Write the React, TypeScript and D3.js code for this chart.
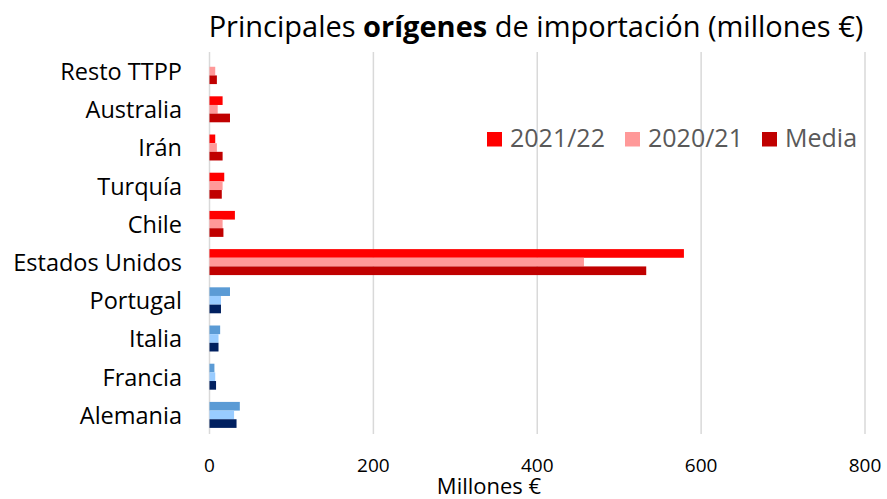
import React from "react";
import * as d3 from "d3";

const categories = ["Resto TTPP", "Australia", "Irán", "Turquía", "Chile", "Estados Unidos", "Portugal", "Italia", "Francia", "Alemania"];
const series = ["2021/22", "2020/21", "Media"];
const values2122 = [0, 16, 7, 18, 31, 579, 25, 13, 6, 37];
const values2021 = [7, 10, 9, 16, 16, 457, 14, 11, 7, 30];
const valuesMedia = [9, 25, 16, 15, 17, 533, 14, 11, 8, 33];
const blueGroup = ["Portugal", "Italia", "Francia", "Alemania"];
const redColors = ["#FF0000", "#FF9999", "#C00000"];
const blueColors = ["#5B9BD5", "#99CCFF", "#002060"];
const xTicks = [0, 200, 400, 600, 800];

const W = 887;
const H = 499;
const font = "'Open Sans', 'Noto Sans', sans-serif";

export default function App() {
  const x = d3.scaleLinear().domain([0, 800]).range([209.5, 865]);
  const y = d3.scaleBand<string>().domain(categories).range([52, 434]).paddingInner(0.32).paddingOuter(0.16);
  const ys = d3.scaleBand<string>().domain(series).range([0, y.bandwidth()]);
  const seriesValues = [values2122, values2021, valuesMedia];

  return (
    <svg width={W} height={H} style={{ position: "absolute", left: 0, top: 0, background: "#fff" }} fontFamily={font}>
      <text x={536} y={37} fontSize={29} textAnchor="middle" fill="#000">
        Principales <tspan fontWeight="bold">orígenes</tspan> de importación (millones €)
      </text>
      {xTicks.map((t) => (
        <g key={t}>
          <line x1={x(t)} x2={x(t)} y1={52} y2={434} stroke="#D9D9D9" strokeWidth={1.5} />
          <text x={x(t)} y={472} fontSize={19} textAnchor="middle" fill="#000">{t}</text>
        </g>
      ))}
      {categories.map((c, i) => {
        const cols = blueGroup.includes(c) ? blueColors : redColors;
        return (
          <g key={c}>
            {series.map((s, j) => {
              const v = seriesValues[j][i];
              return v > 0 ? (
                <rect key={s} x={x(0)} y={(y(c) as number) + (ys(s) as number)} width={x(v) - x(0)} height={ys.bandwidth()} fill={cols[j]} />
              ) : null;
            })}
            <text x={182} y={(y(c) as number) + y.bandwidth() / 2} dy="0.38em" fontSize={23.5} textAnchor="end" fill="#000">{c}</text>
          </g>
        );
      })}
      <text x={489} y={494} fontSize={22} textAnchor="middle" fill="#000">Millones €</text>
      {series.map((s, j) => {
        const lx = [487, 625, 762][j];
        return (
          <g key={s}>
            <rect x={lx} y={132} width={15} height={14.5} fill={redColors[j]} />
            <text x={lx + 23} y={146.5} fontSize={25} fill="#595959">{s}</text>
          </g>
        );
      })}
    </svg>
  );
}
